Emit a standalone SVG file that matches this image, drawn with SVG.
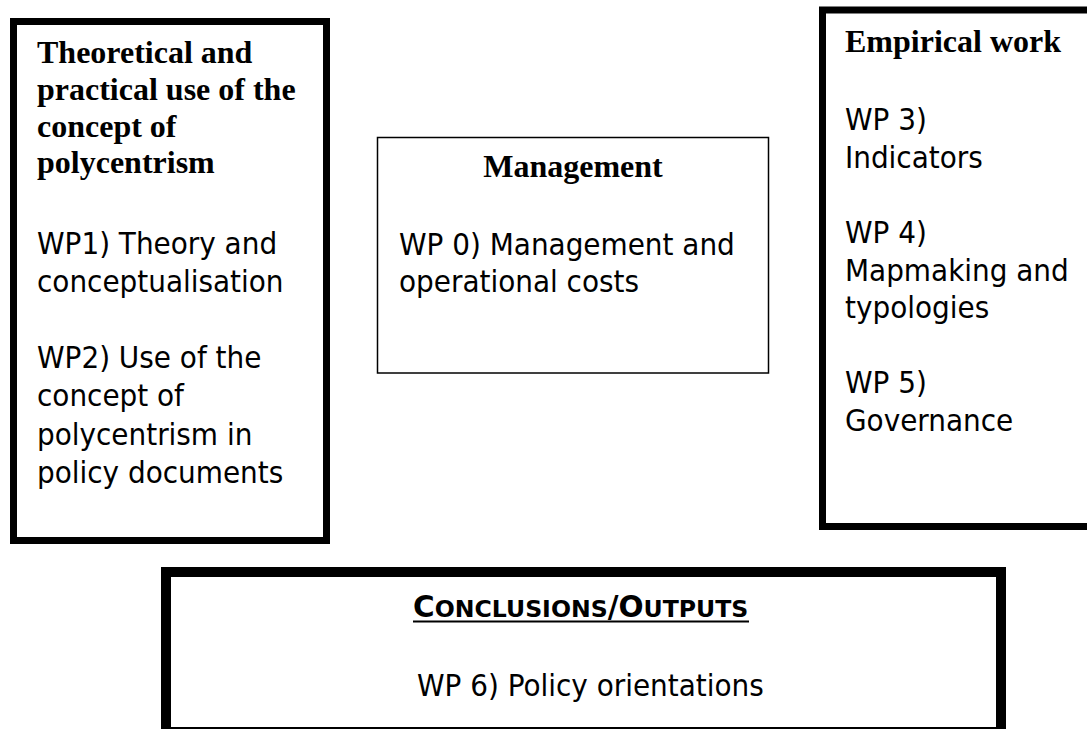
<svg xmlns="http://www.w3.org/2000/svg" width="1087" height="729" viewBox="0 0 1087 729">
<style>
.box{fill:#fff;stroke:#000}
.h{font-family:'Liberation Serif','Times New Roman',serif;font-weight:bold;font-size:32px;fill:#000}
.b{font-family:'DejaVu Sans Condensed','DejaVu Sans',sans-serif;font-stretch:condensed;font-size:31px;fill:#000}
.sc{font-family:'DejaVu Sans','Verdana',sans-serif;font-weight:bold;font-size:29.5px;fill:#000}
</style>
<rect width="1087" height="729" fill="#fff"/>
<g id="connectors"></g>
<g id="theory">
<rect class="box" x="13.5" y="21.5" width="313" height="519" stroke-width="7"/>
<text class="h" x="37" y="63">Theoretical and</text>
<text class="h" x="37" y="100">practical use of the</text>
<text class="h" x="37" y="137">concept of</text>
<text class="h" x="37" y="173">polycentrism</text>
<text class="b" x="37" y="254">WP1) Theory and</text>
<text class="b" x="37" y="292">conceptualisation</text>
<text class="b" x="37" y="368">WP2) Use of the</text>
<text class="b" x="37" y="406">concept of</text>
<text class="b" x="37" y="445">polycentrism in</text>
<text class="b" x="37" y="483">policy documents</text>
</g>
<g id="management">
<rect class="box" x="377.5" y="137.5" width="391" height="235.5" stroke-width="1.5"/>
<text class="h" x="573" y="177" text-anchor="middle">Management</text>
<text class="b" x="399" y="255">WP 0) Management and</text>
<text class="b" x="399" y="292">operational costs</text>
</g>
<g id="empirical">
<rect class="box" x="822.5" y="10" width="300" height="516.5" stroke-width="7"/>
<text class="h" x="845" y="52">Empirical work</text>
<text class="b" x="845" y="130">WP 3)</text>
<text class="b" x="845" y="168">Indicators</text>
<text class="b" x="845" y="243">WP 4)</text>
<text class="b" x="845" y="281">Mapmaking and</text>
<text class="b" x="845" y="318">typologies</text>
<text class="b" x="845" y="393">WP 5)</text>
<text class="b" x="845" y="431">Governance</text>
</g>
<g id="conclusions">
<rect class="box" x="166" y="572" width="835" height="160" stroke-width="10"/>
<text class="sc" x="413" y="617">C<tspan font-size="23.6px">ONCLUSIONS</tspan>/O<tspan font-size="23.6px">UTPUTS</tspan></text>
<line x1="413" y1="621.5" x2="749" y2="621.5" stroke="#000" stroke-width="2"/>
<text class="b" x="417" y="696">WP 6) Policy orientations</text>
</g>
</svg>
